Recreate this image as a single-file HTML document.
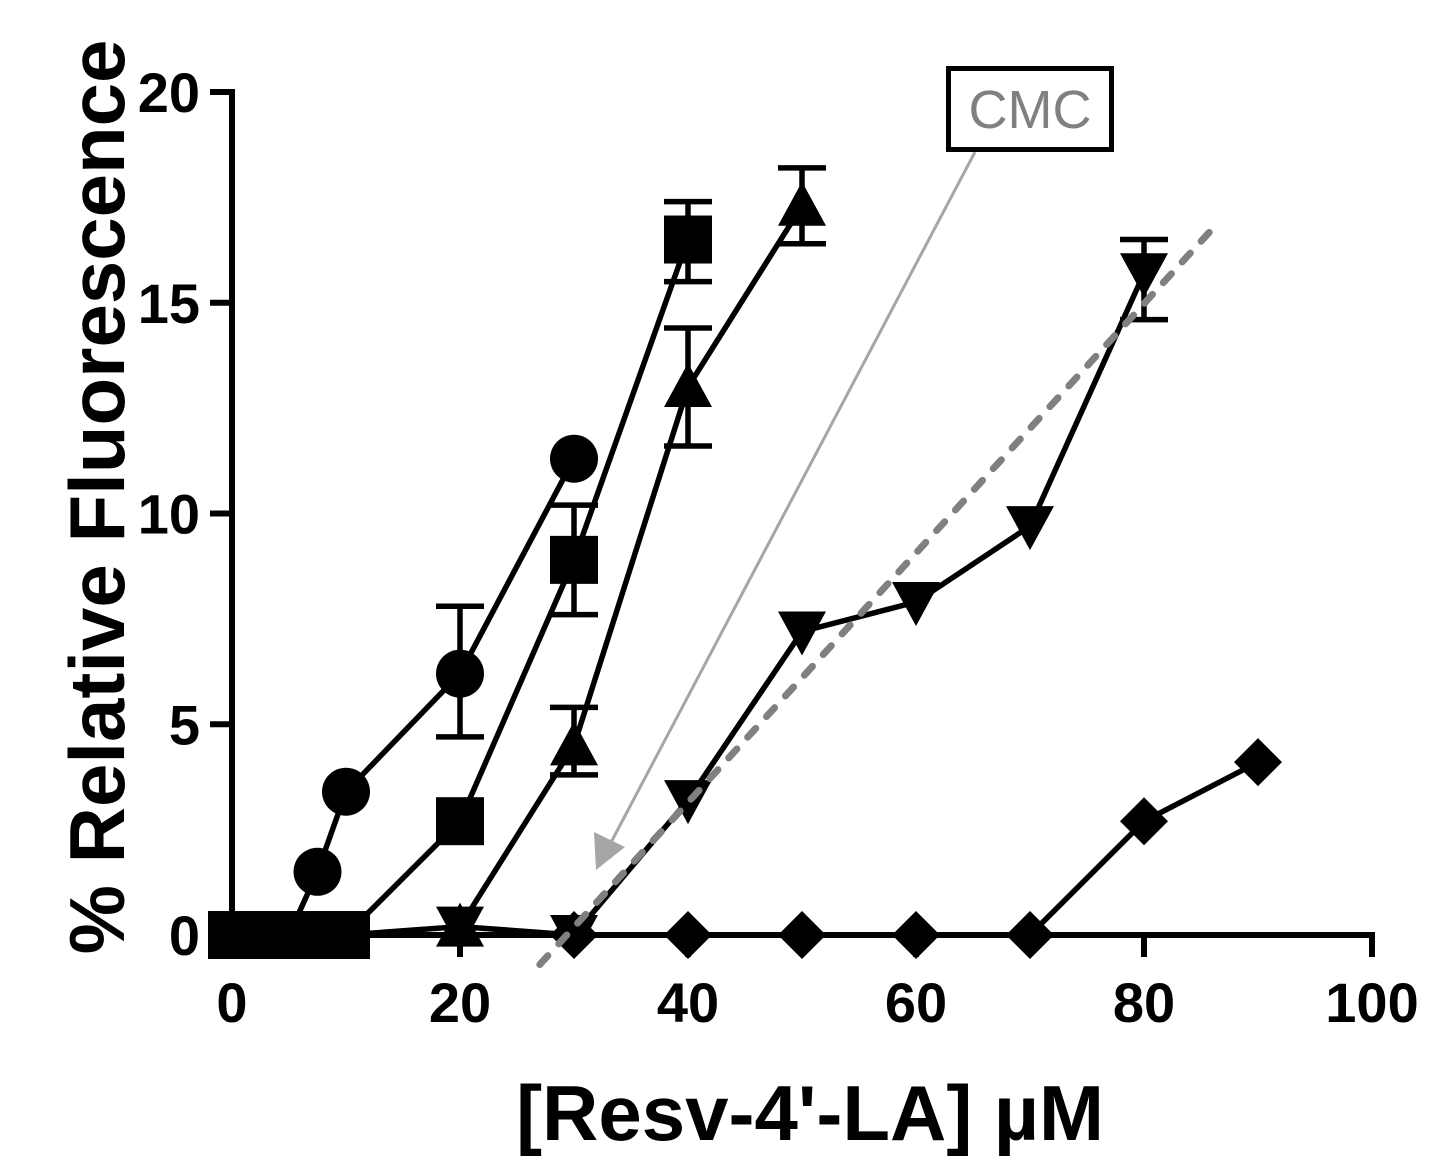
<!DOCTYPE html>
<html><head><meta charset="utf-8"><style>
html,body{margin:0;padding:0;background:#fff;}
svg{display:block;font-family:"Liberation Sans",Arial,sans-serif;}
</style></head><body>
<svg id="chart" width="1440" height="1168" viewBox="0 0 1440 1168" xmlns="http://www.w3.org/2000/svg">
<g id="axes"></g>
<g id="marks"></g>
<text x="810" y="1140" text-anchor="middle" font-size="78" font-weight="bold">[Resv-4'-LA] µM</text>
<text transform="translate(124,497) rotate(-90)" text-anchor="middle" font-size="78" font-weight="bold">% Relative Fluorescence</text>
<g>
<line x1="975" y1="152" x2="607" y2="850" stroke="#a6a6a6" stroke-width="3"/>
<polygon points="596,870 594,832 625,847" fill="#a6a6a6"/>
<rect x="948.5" y="68.5" width="163" height="81" fill="#fff" stroke="#000" stroke-width="5"/>
<text x="1030" y="128" text-anchor="middle" font-size="54" fill="#808080">CMC</text>
</g>
</svg>
<script>
const xTicks=[0,20,40,60,80,100];
const yTicks=[0,5,10,15,20];
const circleX=[0,2.5,5,7.5,10,20,30];
const circleY=[0,0,0,1.5,3.4,6.2,11.3];
const squareX=[0,2.5,5,7.5,10,20,30,40];
const squareY=[0,0,0,0,0,2.7,8.9,16.5];
const triX=[10,20,30,40,50];
const triY=[0,0.2,4.5,13,17.3];
const invX=[20,30,40,50,60,70,80];
const invY=[0.2,0,3.2,7.2,7.9,9.7,15.7];
const diaX=[30,40,50,60,70,80,90];
const diaY=[0,0,0,0,0,2.7,4.1];
const errX=[20,30,40,30,40,50,80];
const errLo=[4.7,7.6,15.5,3.8,11.6,16.4,14.6];
const errHi=[7.8,10.2,17.4,5.4,14.4,18.2,16.5];
const fitX=[27,86.5];
const fitY=[-0.7,16.9];
const NS="http://www.w3.org/2000/svg";
const sx=v=>232+v*11.4;
const sy=v=>935-v*42.15;
function mk(tag,attrs,parent){const e=document.createElementNS(NS,tag);for(const k in attrs)e.setAttribute(k,attrs[k]);parent.appendChild(e);return e;}
const axes=document.getElementById('axes');
const marks=document.getElementById('marks');
let e;
e=mk('line',{x1:sx(0),y1:sy(0),x2:sx(100)+3,y2:sy(0),stroke:'#000','stroke-width':6},axes);


e=mk('line',{x1:sx(0),y1:sy(20)-3,x2:sx(0),y2:sy(0)+3,stroke:'#000','stroke-width':6},axes);


xTicks.forEach(t=>{
 e=mk('line',{x1:sx(t),y1:sy(0),x2:sx(t),y2:sy(0)+22,stroke:'#000','stroke-width':6},axes);
 
 
 e=mk('text',{x:sx(t),y:1022,'text-anchor':'middle','font-size':56,'font-weight':'bold'},axes);
 e.textContent=t;
 
 
});
yTicks.forEach(t=>{
 e=mk('line',{x1:sx(0)-22,y1:sy(t),x2:sx(0),y2:sy(t),stroke:'#000','stroke-width':6},axes);
 
 
 e=mk('text',{x:200,y:sy(t)+20,'text-anchor':'end','font-size':56,'font-weight':'bold'},axes);
 e.textContent=t;
 
 
});
function line(xs,ys,name){
 e=mk('polyline',{points:xs.map((x,i)=>sx(x)+','+sy(ys[i])).join(' '),fill:'none',stroke:'#000','stroke-width':5.5},marks);
 
 
}
line(circleX,circleY,'circle-series-line');
line(squareX,squareY,'square-series-line');
line(triX,triY,'triangle-series-line');
line(invX,invY,'inverted-triangle-series-line');
line(diaX,diaY,'diamond-series-line');
errX.forEach((x,i)=>{
 const g=mk('path',{d:`M${sx(x)},${sy(errLo[i])}V${sy(errHi[i])}M${sx(x)-24},${sy(errLo[i])}h48M${sx(x)-24},${sy(errHi[i])}h48`,stroke:'#000','stroke-width':5.5,fill:'none'},marks);
 
 
});
const R=24;
diaX.forEach((x,i)=>{const cx=sx(x),cy=sy(diaY[i]);
 e=mk('polygon',{points:`${cx},${cy-R} ${cx+R},${cy} ${cx},${cy+R} ${cx-R},${cy}`},marks);
 
 });
invX.forEach((x,i)=>{const cx=sx(x),cy=sy(invY[i]);
 e=mk('polygon',{points:`${cx-R},${cy-20} ${cx+R},${cy-20} ${cx},${cy+24}`},marks);
 
 });
triX.forEach((x,i)=>{if(i===0)return;const cx=sx(x),cy=sy(triY[i]);
 e=mk('polygon',{points:`${cx-R},${cy+20} ${cx+R},${cy+20} ${cx},${cy-24}`},marks);
 
 });
squareX.forEach((x,i)=>{const cx=sx(x),cy=sy(squareY[i]);
 e=mk('rect',{x:cx-R,y:cy-R,width:2*R,height:2*R},marks);
 
 });
circleX.forEach((x,i)=>{const cx=sx(x),cy=sy(circleY[i]);
 e=mk('circle',{cx:cx,cy:cy,r:R},marks);
 
 });
e=mk('line',{x1:sx(fitX[0]),y1:sy(fitY[0]),x2:sx(fitX[1]),y2:sy(fitY[1]),stroke:'#808080','stroke-width':7,'stroke-dasharray':'12 16','stroke-linecap':'round'},marks);


</script>
</body></html>
